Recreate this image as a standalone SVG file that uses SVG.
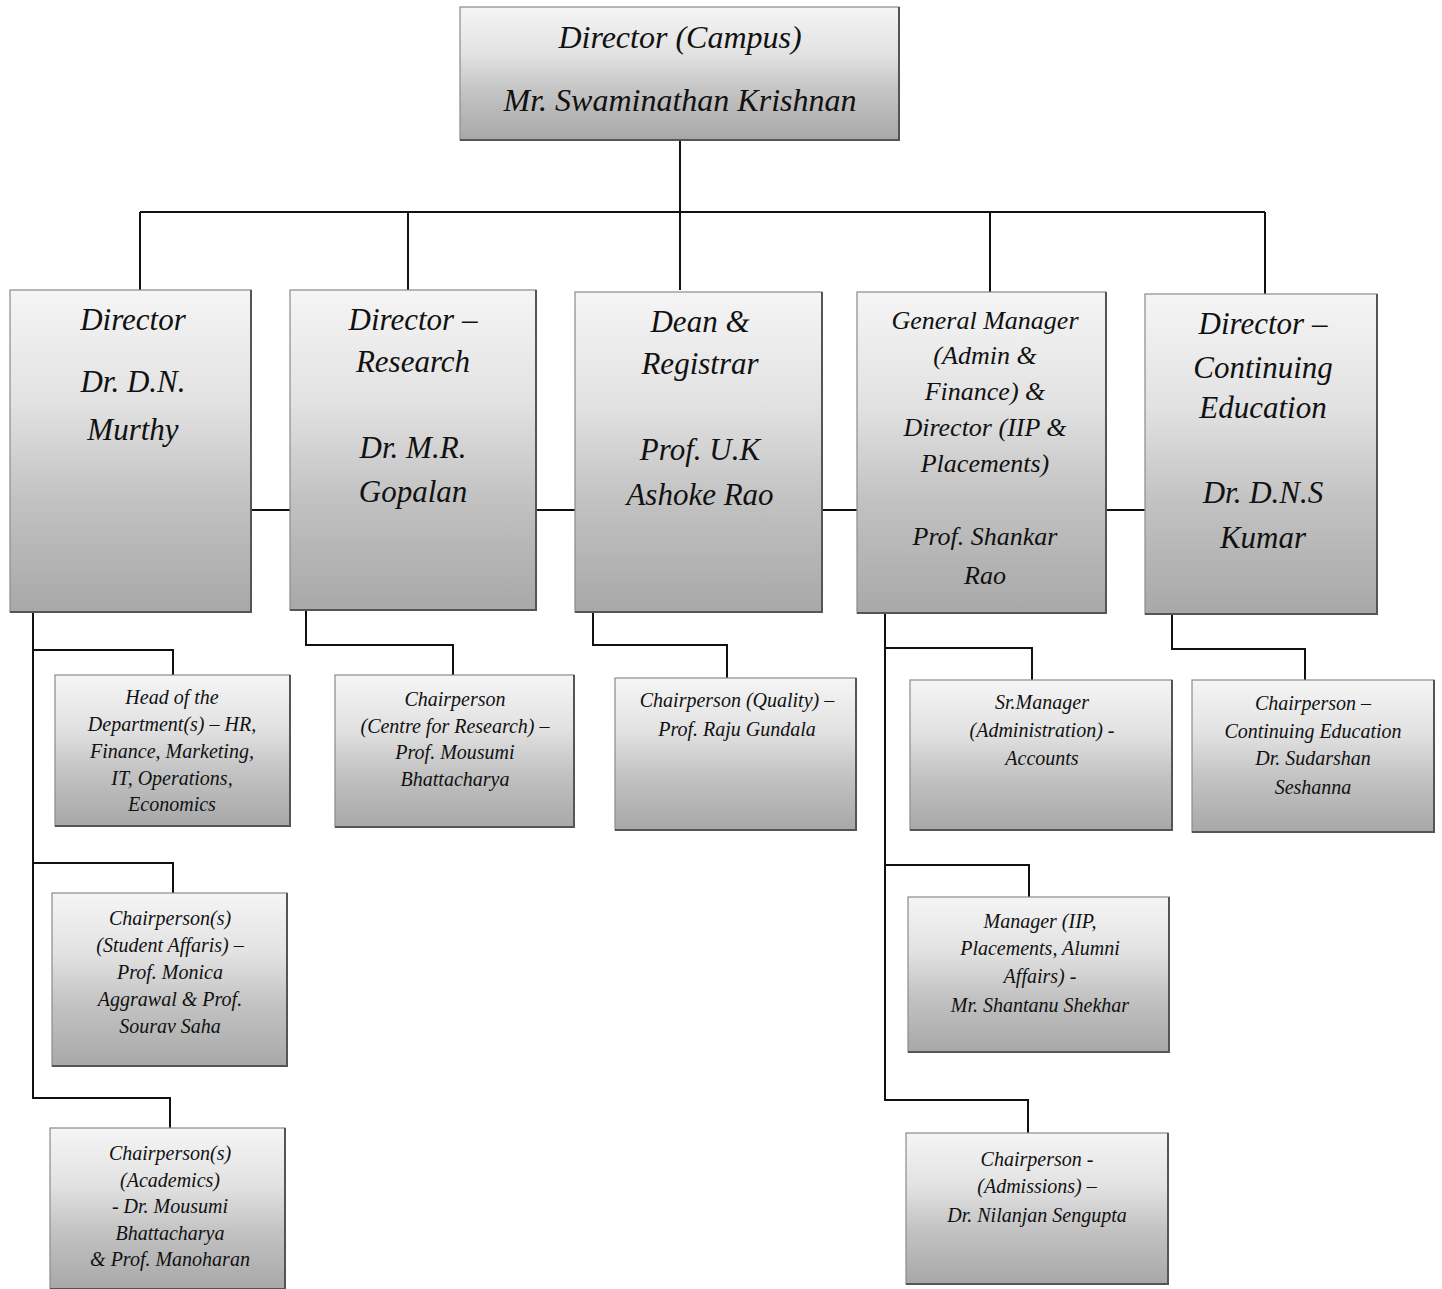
<svg xmlns="http://www.w3.org/2000/svg" width="1442" height="1289" viewBox="0 0 1442 1289">
<style>
.box{fill:url(#g);stroke:#8a8a8a;stroke-width:1.2}
.sh{fill:none;stroke:#555;stroke-width:2}
.t{font-family:"Liberation Serif",serif;font-style:italic;fill:#111;text-anchor:middle}
.t1{font-size:32px}
.t2{font-size:31px}
.t2s{font-size:26px}
.t3{font-size:20px}
.c{fill:none;stroke:#111;stroke-width:2}
</style>
<defs>
<linearGradient id="g" x1="0" y1="0" x2="0" y2="1">
<stop offset="0" stop-color="#f5f5f5"/>
<stop offset="0.35" stop-color="#e2e2e2"/>
<stop offset="0.65" stop-color="#c2c2c2"/>
<stop offset="1" stop-color="#a8a8a8"/>
</linearGradient>
</defs>
<rect width="1442" height="1289" fill="#ffffff"/>
<g id="connectors">
<path class="c" d="M680 140V290M140 212H1265M140 212V290M408 212V290M990 212V292M1265 212V294"/>
<path class="c" d="M251 510H290M536 510H575M822 510H857M1106 510H1145"/>
<path class="c" d="M33 612V1098H170V1128M33 650H173V675M33 863H173V893"/>
<path class="c" d="M306 610V645H453V675"/>
<path class="c" d="M593 612V645H727V678"/>
<path class="c" d="M885 613V1100H1028V1133M885 648H1032V680M885 865H1029V897"/>
<path class="c" d="M1172 614V649H1305V680"/>
</g>
<g id="n-campus"><rect class="box" x="460" y="7" width="439" height="133"/><path class="sh" d="M460 140H899V7"/>
<text class="t t1" x="680" y="48">Director (Campus)</text><text class="t t1" x="680" y="111">Mr. Swaminathan Krishnan</text></g>
<g id="n-murthy"><rect class="box" x="10" y="290" width="241" height="322"/><path class="sh" d="M10 612H251V290"/>
<text class="t t2" x="133" y="330">Director</text><text class="t t2" x="133" y="392">Dr. D.N.</text><text class="t t2" x="133" y="440">Murthy</text></g>
<g id="n-gopalan"><rect class="box" x="290" y="290" width="246" height="320"/><path class="sh" d="M290 610H536V290"/>
<text class="t t2" x="413" y="330">Director –</text><text class="t t2" x="413" y="372">Research</text><text class="t t2" x="413" y="458">Dr. M.R.</text><text class="t t2" x="413" y="502">Gopalan</text></g>
<g id="n-ashoke"><rect class="box" x="575" y="292" width="247" height="320"/><path class="sh" d="M575 612H822V292"/>
<text class="t t2" x="700" y="332">Dean &amp;</text><text class="t t2" x="700" y="374">Registrar</text><text class="t t2" x="700" y="460">Prof. U.K</text><text class="t t2" x="700" y="505">Ashoke Rao</text></g>
<g id="n-shankar"><rect class="box" x="857" y="292" width="249" height="321"/><path class="sh" d="M857 613H1106V292"/>
<text class="t t2s" x="985" y="329">General Manager</text><text class="t t2s" x="985" y="364">(Admin &amp;</text><text class="t t2s" x="985" y="400">Finance) &amp;</text><text class="t t2s" x="985" y="436">Director (IIP &amp;</text><text class="t t2s" x="985" y="472">Placements)</text><text class="t t2s" x="985" y="545">Prof. Shankar</text><text class="t t2s" x="985" y="584">Rao</text></g>
<g id="n-kumar"><rect class="box" x="1145" y="294" width="232" height="320"/><path class="sh" d="M1145 614H1377V294"/>
<text class="t t2" x="1263" y="334">Director –</text><text class="t t2" x="1263" y="378">Continuing</text><text class="t t2" x="1263" y="418">Education</text><text class="t t2" x="1263" y="503">Dr. D.N.S</text><text class="t t2" x="1263" y="548">Kumar</text></g>
<g id="n-hod"><rect class="box" x="55" y="675" width="235" height="151"/><path class="sh" d="M55 826H290V675"/>
<text class="t t3" x="172" y="704">Head of the</text><text class="t t3" x="172" y="731">Department(s) – HR,</text><text class="t t3" x="172" y="758">Finance, Marketing,</text><text class="t t3" x="172" y="785">IT, Operations,</text><text class="t t3" x="172" y="811">Economics</text></g>
<g id="n-student"><rect class="box" x="52" y="893" width="235" height="173"/><path class="sh" d="M52 1066H287V893"/>
<text class="t t3" x="170" y="925">Chairperson(s)</text><text class="t t3" x="170" y="952">(Student Affaris) –</text><text class="t t3" x="170" y="979">Prof. Monica</text><text class="t t3" x="170" y="1006">Aggrawal &amp; Prof.</text><text class="t t3" x="170" y="1033">Sourav Saha</text></g>
<g id="n-academics"><rect class="box" x="50" y="1128" width="235" height="161"/><path class="sh" d="M50 1289H285V1128"/>
<text class="t t3" x="170" y="1160">Chairperson(s)</text><text class="t t3" x="170" y="1187">(Academics)</text><text class="t t3" x="170" y="1213">-  Dr. Mousumi</text><text class="t t3" x="170" y="1240">Bhattacharya</text><text class="t t3" x="170" y="1266">&amp; Prof. Manoharan</text></g>
<g id="n-research"><rect class="box" x="335" y="675" width="239" height="152"/><path class="sh" d="M335 827H574V675"/>
<text class="t t3" x="455" y="706">Chairperson</text><text class="t t3" x="455" y="733">(Centre for Research) –</text><text class="t t3" x="455" y="759">Prof. Mousumi</text><text class="t t3" x="455" y="786">Bhattacharya</text></g>
<g id="n-quality"><rect class="box" x="615" y="678" width="241" height="152"/><path class="sh" d="M615 830H856V678"/>
<text class="t t3" x="737" y="707">Chairperson (Quality) –</text><text class="t t3" x="737" y="736">Prof. Raju Gundala</text></g>
<g id="n-srmanager"><rect class="box" x="910" y="680" width="262" height="150"/><path class="sh" d="M910 830H1172V680"/>
<text class="t t3" x="1042" y="709">Sr.Manager</text><text class="t t3" x="1042" y="737">(Administration) -</text><text class="t t3" x="1042" y="765">Accounts</text></g>
<g id="n-manager"><rect class="box" x="908" y="897" width="261" height="155"/><path class="sh" d="M908 1052H1169V897"/>
<text class="t t3" x="1040" y="928">Manager (IIP,</text><text class="t t3" x="1040" y="955">Placements, Alumni</text><text class="t t3" x="1040" y="983">Affairs) -</text><text class="t t3" x="1040" y="1012">Mr. Shantanu Shekhar</text></g>
<g id="n-admissions"><rect class="box" x="906" y="1133" width="262" height="151"/><path class="sh" d="M906 1284H1168V1133"/>
<text class="t t3" x="1037" y="1166">Chairperson -</text><text class="t t3" x="1037" y="1193">(Admissions) –</text><text class="t t3" x="1037" y="1222">Dr. Nilanjan Sengupta</text></g>
<g id="n-ce"><rect class="box" x="1192" y="680" width="242" height="152"/><path class="sh" d="M1192 832H1434V680"/>
<text class="t t3" x="1313" y="710">Chairperson –</text><text class="t t3" x="1313" y="738">Continuing Education</text><text class="t t3" x="1313" y="765">Dr. Sudarshan</text><text class="t t3" x="1313" y="794">Seshanna</text></g>
</svg>
